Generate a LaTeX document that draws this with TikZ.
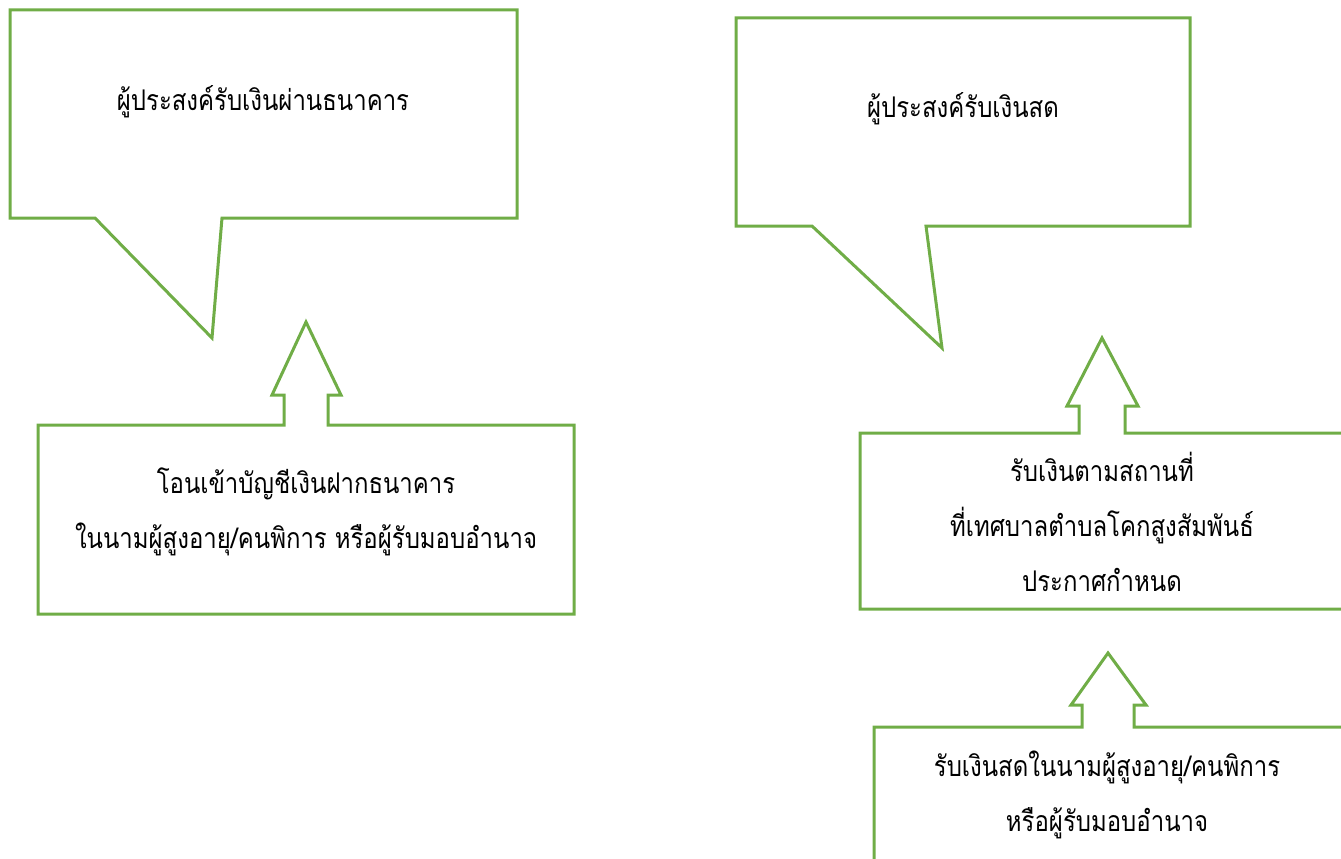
\documentclass[tikz,border=0pt]{standalone}
\usepackage{fontspec}
\newfontfamily\thaifont[Script=Thai,FakeStretch=0.84]{Loma}
\usetikzlibrary{positioning}
\definecolor{shapegreen}{HTML}{70AD47}

\begin{document}
\begin{tikzpicture}[
    x=1pt, y=-1pt,
    outline/.style={draw=shapegreen,line width=3pt,line join=miter},
    thaitext/.style={font=\thaifont\fontsize{28.5}{55}\selectfont,align=center,inner sep=0pt}
]

\def \PAGEW {1341}; % page width
\def \PAGEH {859}; % page height

\useasboundingbox (0,0) rectangle (\PAGEW,\PAGEH);
\clip (0,0) rectangle (\PAGEW,\PAGEH);

% Left callout: bank
\draw[outline] (10,10) -- (517,10) -- (517,218) -- (222,218) -- (212,338) -- (95,218) -- (10,218) -- cycle;
\node[thaitext] (bank) at (263,102) {ผู้ประสงค์รับเงินผ่านธนาคาร};

% Transfer box with its up arrow
\draw[outline] (38,425) -- (284,425) -- (284,395) -- (272,395) -- (306,322) -- (341,395) -- (328,395)
    -- (328,425) -- (574,425) -- (574,614) -- (38,614) -- cycle;
\node[thaitext] (transfer) at (306,512) {โอนเข้าบัญชีเงินฝากธนาคาร\\ในนามผู้สูงอายุ/คนพิการ หรือผู้รับมอบอำนาจ};

% Right callout: cash
\draw[outline] (736,18) -- (1190,18) -- (1190,226) -- (926,226) -- (942,348) -- (812,226) -- (736,226) -- cycle;
\node[thaitext] (cash) at (963,109) {ผู้ประสงค์รับเงินสด};

% Place box with its up arrow (runs off the right edge)
\draw[outline] (860,433) -- (1079,433) -- (1079,406) -- (1067,406) -- (1102,338) -- (1138,406) -- (1125,406)
    -- (1125,433) -- (1360,433) -- (1360,609) -- (860,609) -- cycle;
\node[thaitext] (place) at (1102,522) {รับเงินตามสถานที่\\ที่เทศบาลตำบลโคกสูงสัมพันธ์\\ประกาศกำหนด};

% In-person box with its up arrow (runs off right and bottom)
\draw[outline] (874,727) -- (1082,727) -- (1082,705) -- (1071,705) -- (1108,653) -- (1146,705) -- (1134,705)
    -- (1134,727) -- (1360,727) -- (1360,880) -- (874,880) -- cycle;
\node[thaitext] (inperson) at (1107,795) {รับเงินสดในนามผู้สูงอายุ/คนพิการ\\หรือผู้รับมอบอำนาจ};

\end{tikzpicture}
\end{document}
